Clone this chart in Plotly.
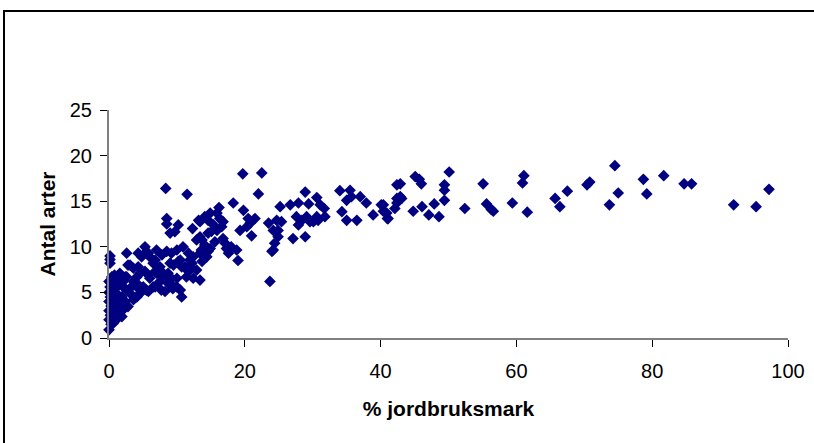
import plotly.graph_objects as go

# % jordbruksmark (x) and Antal arter (y)
pct_farmland = [
    74.5, 70.8, 70.4, 75.0, 73.7, 78.7, 79.2, 81.7, 84.7, 85.8, 92.0, 95.3, 97.2,
    50.1, 45.1, 45.7, 46.0, 42.9, 49.4, 49.4, 49.4, 42.9, 43.1, 42.4, 42.1, 40.4, 40.4, 41.0,
    44.8, 46.1, 47.9, 47.1, 48.6, 52.4, 55.1, 55.6, 56.3, 56.6, 59.4, 61.6, 61.1, 60.9,
    65.7, 66.4, 67.5,
    19.7, 22.5, 22.0, 18.3, 16.2, 19.8, 14.1, 14.6, 13.4, 16.3, 16.8, 16.6, 15.9, 15.1,
    20.5, 21.5, 20.8, 20.3, 19.3, 21.0, 13.7, 15.6, 17.1, 17.3, 18.0, 18.8, 14.6, 14.4,
    13.7, 19.0, 23.7, 25.2, 26.7, 27.9, 28.9, 29.4, 30.6, 31.1, 31.7, 23.5, 24.7, 25.4,
    24.2, 24.9, 24.9, 24.4, 24.2, 24.0, 27.1, 28.9, 27.6, 28.4, 27.9, 29.1, 29.6, 30.6,
    30.8, 31.8, 30.1, 34.0, 35.5, 37.0, 35.7, 35.0, 37.9, 34.3, 35.0, 36.5, 38.9, 40.1,
    40.9, 41.1, 42.4, 42.4,
    8.35, 11.5, 8.5, 8.5, 10.2, 9.0, 9.7, 12.3, 13.2, 12.9,
    14.9, 15.9, 13.4, 14.6, 15.4, 14.1, 14.9, 16.8, 13.4,
    7.0, 8.5, 10.0, 10.9, 11.7, 12.4, 12.2, 11.2, 11.7, 6.0, 6.5, 7.5, 8.0, 9.0, 10.2,
    8.7, 8.25, 10.7, 10.0, 6.8, 7.5,
    0.15, 0.15, 0.15, 2.6, 5.3, 4.3, 4.8, 5.8, 6.8, 7.8, 9.2, 2.8, 3.6, 4.3, 1.6, 2.4,
    4.6, 5.8, 6.8, 7.8, 9.2, 5.8, 8.7, 4.3,
    5.3, 11.9, 10.5, 9.5, 10.7, 11.9, 12.9, 5.3, 4.1, 6.0, 7.0, 8.5, 9.0, 10.0, 11.4,
    12.4, 13.4, 6.5, 7.7, 9.4, 10.5, 13.6, 17.6, 3.1,
    0.0, 0.15, 0.0, 0.2, 0.0, 0.3, 0.0, 0.2, 0.0, 0.3, 0.0, 0.9, 1.6, 2.1, 1.1, 1.9,
    2.6, 3.1, 2.4, 1.6, 1.4, 1.1, 0.6, 2.1, 2.8, 3.6, 4.1, 4.6, 3.3, 4.1, 5.05, 5.5,
    2.1, 0.4, 0.8, 2.6, 3.6, 1.9, 0.9, 0.6, 0.5, 0.4, 1.2, 0.5, 1.0, 1.4, 0.3,
]
species_count = [
    18.9, 17.1, 16.8, 15.9, 14.6, 17.4, 15.8, 17.8, 16.9, 16.9, 14.6, 14.4, 16.3,
    18.2, 17.7, 17.4, 16.9, 16.9, 16.8, 16.2, 15.1, 15.5, 15.3, 14.8, 14.2, 14.6, 13.9, 13.1,
    13.9, 14.4, 14.7, 13.5, 13.3, 14.2, 16.9, 14.7, 14.1, 13.9, 14.8, 13.8, 17.8, 17.0,
    15.3, 14.4, 16.1,
    18.0, 18.1, 15.8, 14.8, 14.3, 14.0, 13.3, 12.9, 12.75, 13.1, 12.75, 12.2, 11.8, 11.7,
    13.1, 13.1, 12.6, 12.2, 11.8, 11.2, 10.75, 10.55, 10.4, 9.8, 10.0, 9.65, 9.5, 8.9,
    8.4, 8.5, 6.2, 14.4, 14.6, 14.8, 16.0, 14.7, 15.4, 14.6, 14.2, 12.6, 12.9, 12.75,
    11.8, 11.8, 11.1, 10.4, 9.65, 9.5, 10.9, 11.1, 13.3, 12.9, 12.4, 13.3, 12.75, 13.3,
    12.9, 13.3, 12.75, 16.15, 16.2, 15.5, 15.5, 15.1, 14.8, 13.85, 12.9, 12.9, 13.5, 14.6,
    13.7, 13.1, 15.3, 16.8,
    16.4, 15.75, 13.1, 12.5, 12.4, 11.5, 11.65, 12.0, 12.9, 10.75,
    13.7, 13.7, 11.1, 11.5, 12.4, 10.2, 9.8, 10.9, 9.3,
    9.65, 9.5, 9.65, 10.0, 9.3, 8.9, 8.2, 7.8, 7.3, 8.9, 8.2, 7.8, 7.1, 8.2, 8.4,
    7.1, 5.1, 4.5, 5.6, 5.6, 6.2,
    9.0, 8.6, 8.2, 9.3, 10.0, 9.3, 8.9, 9.3, 8.55, 9.1, 9.3, 8.0, 7.65, 7.8, 7.1, 6.7,
    7.1, 6.9, 7.3, 6.7, 6.55, 5.1, 6.0, 5.45,
    9.3, 8.55, 8.55, 8.0, 7.8, 7.8, 7.45, 7.3, 6.7, 6.55, 7.1, 6.7, 6.0, 6.55, 6.7,
    6.55, 6.35, 5.6, 5.25, 5.4, 5.25, 9.65, 9.3, 8.0,
    6.2, 5.6, 5.0, 4.5, 4.0, 3.5, 3.0, 2.5, 2.0, 1.5, 0.9, 6.0, 6.35, 5.6, 4.9, 4.5,
    5.25, 4.9, 4.0, 3.45, 2.7, 2.0, 1.6, 3.1, 3.45, 4.2, 4.5, 4.9, 5.6, 6.0, 5.6, 5.25,
    6.2, 6.7, 6.9, 6.7, 6.2, 2.35, 3.8, 4.5, 3.1, 5.3, 5.6, 2.3, 4.2, 3.9, 6.0,
]

x_ticks = [0, 20, 40, 60, 80, 100]
y_ticks = [0, 5, 10, 15, 20, 25]

W, H = 814, 443
L, R, T, B = 109, 26, 110, 105
pw, ph = W - L - R, H - T - B

fig = go.Figure(
    go.Scatter(
        x=pct_farmland,
        y=species_count,
        mode="markers",
        marker=dict(symbol="diamond", size=9, color="#000080", line=dict(width=0)),
        cliponaxis=False,
        showlegend=False,
    )
)

font_family = "Arial, Liberation Sans, sans-serif"

fig.update_xaxes(
    range=[0, 100],
    tickvals=x_ticks,
    showgrid=False,
    zeroline=False,
    showline=True,
    linecolor="#808080",
    linewidth=2,
    ticks="outside",
    ticklen=7,
    tickwidth=1,
    tickcolor="#000000",
    ticklabelstandoff=7,
    tickfont=dict(family=font_family, size=20, color="#000"),
    title=dict(text="<b>% jordbruksmark</b>", font=dict(family=font_family, size=21, color="#000"), standoff=20),
)
fig.update_yaxes(
    range=[0, 25],
    tickvals=y_ticks,
    showgrid=False,
    zeroline=False,
    showline=True,
    linecolor="#808080",
    linewidth=2,
    ticks="outside",
    ticklen=7,
    tickwidth=1,
    tickcolor="#000000",
    ticklabelstandoff=4,
    tickfont=dict(family=font_family, size=20, color="#000"),
    title=dict(text="<b>Antal arter</b>", font=dict(family=font_family, size=21, color="#000"), standoff=8),
)

# outer chart border (left and top edges visible, the rest runs off-canvas)
fig.add_shape(
    type="rect",
    xref="paper",
    yref="paper",
    x0=(4 - L) / pw,
    x1=(W + 10 - L) / pw,
    y0=(H - B - (H + 10)) / ph,
    y1=(H - B - 11) / ph,
    line=dict(color="#000000", width=2),
    fillcolor="rgba(0,0,0,0)",
    layer="below",
)

fig.update_layout(
    width=W,
    height=H,
    margin=dict(l=L, r=R, t=T, b=B, autoexpand=False),
    paper_bgcolor="white",
    plot_bgcolor="white",
)

fig.write_html("out.html")
